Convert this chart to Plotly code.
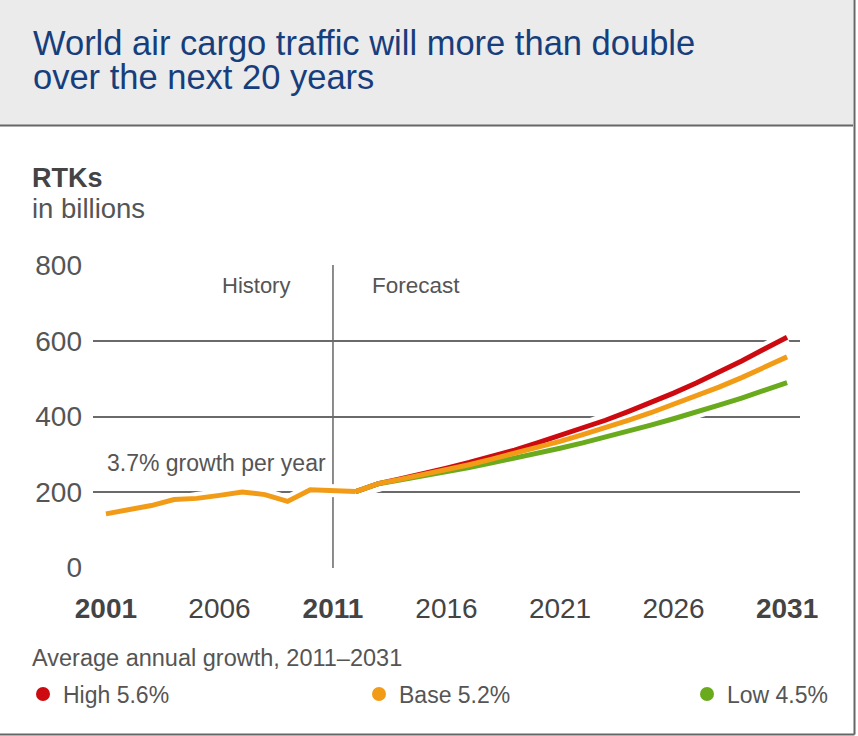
import plotly.graph_objects as go

# ---- data ----
hist_years = [2001, 2002, 2003, 2004, 2005, 2006, 2007, 2008, 2009, 2010, 2011, 2012]
hist_rtk = [142, 153, 164, 180, 183, 191, 200, 193, 175, 206, 204, 201]

fc_years = [2012, 2013, 2014, 2015, 2016, 2017, 2018, 2019, 2020, 2021, 2022,
            2023, 2024, 2025, 2026, 2027, 2028, 2029, 2030, 2031]
high_rtk = [201, 222, 235, 248, 263, 278, 294, 311, 330, 349, 369, 390, 413,
            437, 462, 489, 517, 547, 579, 610]
base_rtk = [201, 222, 234, 246, 259, 272, 287, 302, 318, 334, 352, 370, 390,
            410, 432, 454, 478, 503, 530, 558]
low_rtk = [201, 222, 232, 242, 253, 265, 277, 289, 302, 316, 330, 345, 360,
           377, 394, 411, 430, 449, 469, 490]

x_tickvals = [2001, 2006, 2011, 2016, 2021, 2026, 2031]
x_ticktext = ["<b>2001</b>", "2006", "<b>2011</b>", "2016", "2021", "2026", "<b>2031</b>"]
y_tickvals = [0, 200, 400, 600, 800]

legend_names = ["High 5.6%", "Base 5.2%", "Low 4.5%"]

title_lines = ["World air cargo traffic will more than double", "over the next 20 years"]

RED = "#cc0a10"
ORANGE = "#f29b17"
GREEN = "#6aab1e"
GRAY = "#555555"
FONT = "Liberation Sans, Arial, sans-serif"

W, H = 858, 736
ML, MR, MT, MB = 93, 58, 265, 168
PW = W - ML - MR
PH = H - MT - MB


def px(x):
    return (x - ML) / PW


def py(y):
    return (H - MB - y) / PH


fig = go.Figure()

# white halos under all lines
for xs, ys in [(fc_years, high_rtk), (fc_years, low_rtk), (fc_years, base_rtk),
               (hist_years, hist_rtk)]:
    fig.add_trace(go.Scatter(x=xs, y=ys, mode="lines", hoverinfo="skip",
                             line=dict(color="white", width=13), showlegend=False))

fig.add_trace(go.Scatter(x=fc_years, y=high_rtk, mode="lines", name=legend_names[0],
                         line=dict(color=RED, width=5), showlegend=False))
fig.add_trace(go.Scatter(x=fc_years, y=low_rtk, mode="lines", name=legend_names[2],
                         line=dict(color=GREEN, width=5), showlegend=False))
fig.add_trace(go.Scatter(x=fc_years, y=base_rtk, mode="lines", name=legend_names[1],
                         line=dict(color=ORANGE, width=5), showlegend=False))
fig.add_trace(go.Scatter(x=hist_years, y=hist_rtk, mode="lines", name="History",
                         line=dict(color=ORANGE, width=5), showlegend=False))

for name, col, lg in zip(legend_names, [RED, ORANGE, GREEN], ["legend", "legend2", "legend3"]):
    fig.add_trace(go.Scatter(x=[None], y=[None], mode="markers", name=name, legend=lg,
                             marker=dict(color=col, size=14)))

shapes = [
    # header band
    dict(type="rect", xref="paper", yref="paper", x0=px(-2), x1=px(853),
         y0=py(-2), y1=py(125), fillcolor="#ebebeb", line=dict(width=0), layer="below"),
    dict(type="line", xref="paper", yref="paper", x0=px(-2), x1=px(853),
         y0=py(125.5), y1=py(125.5), line=dict(color="#666666", width=2)),
    # outer frame right and bottom
    dict(type="line", xref="paper", yref="paper", x0=px(854.5), x1=px(854.5),
         y0=py(-2), y1=py(734.5), line=dict(color="#666666", width=2)),
    dict(type="line", xref="paper", yref="paper", x0=px(-2), x1=px(854.5),
         y0=py(734.5), y1=py(734.5), line=dict(color="#666666", width=2)),
    # history / forecast divider
    dict(type="line", xref="x", yref="paper", x0=2011, x1=2011, y0=0, y1=1,
         line=dict(color="#666666", width=1.5), layer="below"),
]

title_text = "<br>".join("<span style='font-size:34.5px'>%s</span>" % t for t in title_lines)

annotations = [
    dict(xref="paper", yref="paper", x=px(31), y=py(60), xanchor="left", yanchor="middle",
         align="left", showarrow=False, text=title_text,
         font=dict(family=FONT, size=26.5, color="#173e7c")),
    dict(xref="paper", yref="paper", x=px(30), y=py(178), xanchor="left", yanchor="middle",
         showarrow=False, text="<b>RTKs</b>", font=dict(family=FONT, size=27, color="#444444")),
    dict(xref="paper", yref="paper", x=px(30), y=py(208), xanchor="left", yanchor="middle",
         showarrow=False, text="in billions", font=dict(family=FONT, size=27.5, color=GRAY)),
    dict(xref="x", yref="paper", x=2007.6, y=py(285), xanchor="center", yanchor="middle",
         showarrow=False, text="History", font=dict(family=FONT, size=22, color=GRAY)),
    dict(xref="x", yref="paper", x=2012.65, y=py(285), xanchor="left", yanchor="middle",
         showarrow=False, text="Forecast", font=dict(family=FONT, size=22.5, color=GRAY)),
    dict(xref="x", yref="paper", x=2005.85, y=py(463), xanchor="center", yanchor="middle",
         showarrow=False, text="3.7% growth per year", font=dict(family=FONT, size=23, color=GRAY)),
    dict(xref="paper", yref="paper", x=px(30), y=py(658), xanchor="left", yanchor="middle",
         showarrow=False, text="Average annual growth, 2011–2031",
         font=dict(family=FONT, size=23.5, color=GRAY)),
]

leg_common = dict(orientation="h", y=py(694), xanchor="left", yanchor="middle",
                  font=dict(family=FONT, size=23, color=GRAY), bgcolor="rgba(0,0,0,0)")

fig.update_layout(
    width=W, height=H,
    margin=dict(l=ML, r=MR, t=MT, b=MB, autoexpand=False),
    paper_bgcolor="white", plot_bgcolor="white",
    font=dict(family=FONT, color=GRAY),
    shapes=shapes, annotations=annotations,
    legend=dict(x=px(23), **leg_common),
    legend2=dict(x=px(359), **leg_common),
    legend3=dict(x=px(687), **leg_common),
    xaxis=dict(range=[2000.43, 2031.57], tickvals=x_tickvals, ticktext=x_ticktext,
               showgrid=False, zeroline=False, showline=False, ticks="",
               tickfont=dict(family=FONT, size=28, color="#444444"), ticklabelstandoff=21),
    yaxis=dict(range=[-1.5, 801.5], tickvals=y_tickvals, showgrid=True, gridcolor="#6a6a6a",
               gridwidth=2, zeroline=False, showline=False, ticks="",
               tickfont=dict(family=FONT, size=28, color=GRAY), ticklabelstandoff=10),
)

fig.write_html("out.html", config={"displayModeBar": False},
               post_script="document.body.style.margin='0px';document.body.style.overflow='hidden';")
